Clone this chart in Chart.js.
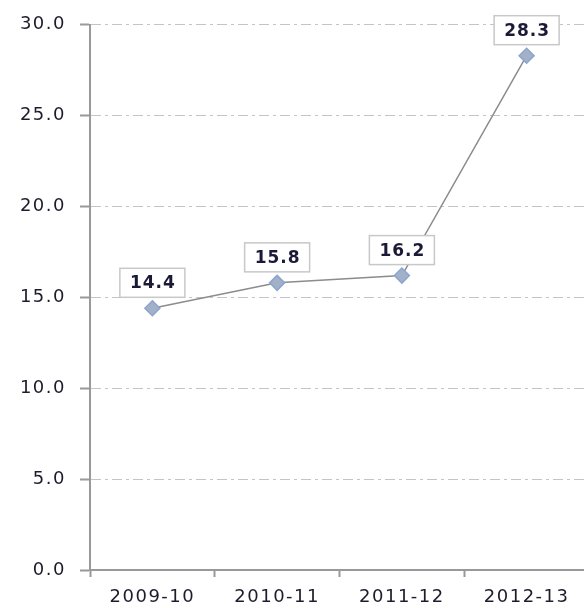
<!DOCTYPE html>
<html>
<head>
<meta charset="utf-8">
<script src="https://cdn.jsdelivr.net/npm/chart.js@4"></script>
<style>
  html, body { margin: 0; padding: 0; background: #fff; overflow: hidden; }
  #wrap { width: 598px; height: 608px; }
</style>
</head>
<body>
<div id="wrap"><canvas id="trendChart" width="598" height="608"></canvas></div>
<script>
const years = ["2009-10", "2010-11", "2011-12", "2012-13"];
const values = [14.4, 15.8, 16.2, 28.3];
const yMin = 0;
const yMax = 30;
const yStep = 5;

// value boxes above each point
const valueBoxes = {
    id: "valueBoxes",
    afterDatasetsDraw(chart) {
        const ctx = chart.ctx;
        const meta = chart.getDatasetMeta(0);
        ctx.save();
        ctx.setLineDash([]);
        ctx.letterSpacing = "1px";
        ctx.font = "bold 17px 'DejaVu Sans'";
        ctx.textAlign = "center";
        ctx.textBaseline = "middle";
        meta.data.forEach((pt, i) => {
            const w = 65, h = 29;
            const x = pt.x - w / 2;
            const y = pt.y - 11 - h;
            ctx.fillStyle = "#ffffff";
            ctx.fillRect(x, y, w, h);
            ctx.strokeStyle = "#c8c8c8";
            ctx.lineWidth = 1.5;
            ctx.strokeRect(x, y, w, h);
            ctx.fillStyle = "#1a1a36";
            ctx.fillText(values[i].toFixed(1), pt.x + 0.5, y + h / 2 + 1);
        });
        ctx.restore();
    }
};

// wide lettering like the original
const wideText = {
    id: "wideText",
    beforeDraw(chart) {
        chart.ctx.letterSpacing = "1.5px";
    }
};

new Chart(document.getElementById("trendChart").getContext("2d"), {
    type: "line",
    data: {
        labels: years,
        datasets: [{
            data: values,
            borderColor: "#8c8c8c",
            borderWidth: 1.5,
            pointStyle: "rectRot",
            pointRadius: 7.5,
            pointBackgroundColor: "#a2b0c8",
            pointBorderColor: "#8ba5cf",
            pointBorderWidth: 1.5,
            tension: 0
        }]
    },
    options: {
        responsive: false,
        animation: false,
        layout: { padding: { top: 22, left: 0, right: 0, bottom: 0 } },
        plugins: {
            legend: { display: false },
            tooltip: { enabled: false }
        },
        scales: {
            x: {
                offset: true,
                afterFit: (s) => { s.height = 38; },
                grid: {
                    offset: true,
                    drawOnChartArea: false,
                    tickLength: 7,
                    tickColor: "#999",
                    tickWidth: 2
                },
                border: { color: "#999", width: 2 },
                ticks: {
                    padding: 10,
                    color: "#1c1c2c",
                    font: { family: "DejaVu Sans", size: 18 },
                    maxRotation: 0
                }
            },
            y: {
                min: yMin,
                max: yMax,
                afterFit: (s) => { s.width = 90; },
                grid: {
                    color: "#c4c4c4",
                    lineWidth: 1,
                    tickLength: 10,
                    tickColor: "#999",
                    tickWidth: 2
                },
                border: { color: "#999", width: 2, dash: [10, 4, 3, 4] },
                ticks: {
                    stepSize: yStep,
                    padding: 14,
                    color: "#1c1c2c",
                    font: { family: "DejaVu Sans", size: 18 },
                    callback: (v) => v.toFixed(1)
                }
            }
        }
    },
    plugins: [wideText, valueBoxes]
});
</script>
</body>
</html>
